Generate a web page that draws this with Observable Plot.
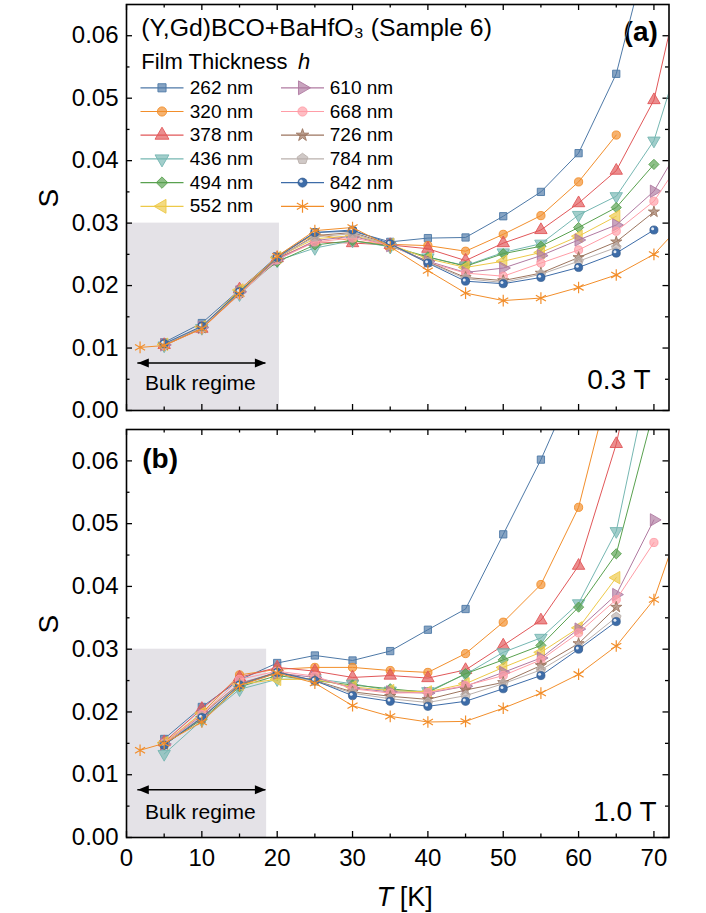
<!DOCTYPE html>
<html>
<head>
<meta charset="utf-8">
<script src="https://cdn.jsdelivr.net/npm/d3@7"></script>
<script src="https://cdn.jsdelivr.net/npm/@observablehq/plot@0.6"></script>
<style>
  body { margin: 0; background: #fff; }
  #chart svg { display: block; }
</style>
</head>
<body>
<div id="chart"></div>
<script>
// ---------- data ----------
const temps = [1.8, 5, 10, 15, 20, 25, 30, 35, 40, 45, 50, 55, 60, 65, 70, 75];
const thicknesses = ["262 nm", "320 nm", "378 nm", "436 nm", "494 nm", "552 nm",
                     "610 nm", "668 nm", "726 nm", "784 nm", "842 nm", "900 nm"];
const lineColors = ["#4e79a7", "#f28e2b", "#e15759", "#76b7b2", "#59a14f", "#edc948",
                    "#b07aa1", "#ff9da7", "#9c755f", "#bab0ac", "#3d6ca8", "#f28e2b"];
const xMajor = [0, 10, 20, 30, 40, 50, 60, 70];
const xMinor = [5, 15, 25, 35, 45, 55, 65];
const yMajor = [0, 0.01, 0.02, 0.03, 0.04, 0.05, 0.06];
const yMinor = [0.005, 0.015, 0.025, 0.035, 0.045, 0.055];

// panel (a): 0.3 T
const a262 = [null, 0.0109, 0.0140, 0.0193, 0.0247, 0.0285, 0.0287, 0.0270, 0.0276, 0.0277, 0.0311, 0.0350, 0.0412, 0.0539, 0.0776, null];
const a320 = [null, 0.0104, 0.0132, 0.0190, 0.0246, 0.0283, 0.0271, 0.0266, 0.0264, 0.0255, 0.0282, 0.0312, 0.0366, 0.0441, null, null];
const a378 = [null, 0.0105, 0.0131, 0.0194, 0.0244, 0.0270, 0.0268, 0.0265, 0.0259, 0.0240, 0.0268, 0.0289, 0.0332, 0.0384, 0.0497, 0.0762];
const a436 = [null, 0.0104, 0.0132, 0.0186, 0.0240, 0.0260, 0.0272, 0.0262, 0.0245, 0.0232, 0.0253, 0.0267, 0.0313, 0.0343, 0.0432, 0.0627];
const a494 = [null, 0.0105, 0.0133, 0.0192, 0.0238, 0.0265, 0.0272, 0.0263, 0.0246, 0.0231, 0.0251, 0.0263, 0.0293, 0.0325, 0.0394, null];
const a552 = [null, 0.0106, 0.0134, 0.0193, 0.0245, 0.0275, 0.0280, 0.0266, 0.0243, 0.0229, 0.0239, 0.0253, 0.0279, 0.0311, null, null];
const a610 = [null, 0.0105, 0.0133, 0.0190, 0.0242, 0.0272, 0.0279, 0.0264, 0.0239, 0.0221, 0.0228, 0.0248, 0.0273, 0.0297, 0.0351, 0.0454];
const a668 = [null, 0.0104, 0.0131, 0.0186, 0.0241, 0.0270, 0.0276, 0.0265, 0.0237, 0.0220, 0.0215, 0.0236, 0.0257, 0.0287, 0.0335, 0.0425];
const a726 = [null, 0.0105, 0.0132, 0.0188, 0.0244, 0.0280, 0.0285, 0.0266, 0.0238, 0.0213, 0.0208, 0.0220, 0.0245, 0.0270, 0.0318, null];
const a784 = [null, 0.0106, 0.0133, 0.0189, 0.0245, 0.0278, 0.0283, 0.0265, 0.0237, 0.0211, 0.0205, 0.0218, 0.0239, 0.0261, null, null];
const a842 = [null, 0.0107, 0.0135, 0.0190, 0.0245, 0.0285, 0.0289, 0.0267, 0.0236, 0.0207, 0.0203, 0.0213, 0.0229, 0.0252, 0.0289, null];
const a900 = [0.0101, 0.0104, 0.0131, 0.0187, 0.0247, 0.0288, 0.0293, 0.0262, 0.0224, 0.0188, 0.0176, 0.0180, 0.0197, 0.0217, 0.0250, 0.0315];

// panel (b): 1.0 T
const b262 = [null, 0.0157, 0.0208, 0.0251, 0.0278, 0.0290, 0.0282, 0.0297, 0.0331, 0.0364, 0.0483, 0.0602, 0.0738, null, null, null];
const b320 = [null, 0.0150, 0.0198, 0.0259, 0.0268, 0.0271, 0.0271, 0.0266, 0.0263, 0.0293, 0.0343, 0.0403, 0.0526, 0.0763, null, null];
const b378 = [null, 0.0152, 0.0205, 0.0255, 0.0271, 0.0265, 0.0255, 0.0258, 0.0254, 0.0267, 0.0306, 0.0346, 0.0433, 0.0627, 0.0900, null];
const b436 = [null, 0.0133, 0.0187, 0.0236, 0.0252, 0.0253, 0.0245, 0.0234, 0.0233, 0.0260, 0.0295, 0.0318, 0.0373, 0.0488, 0.0772, null];
const b494 = [null, 0.0148, 0.0188, 0.0240, 0.0258, 0.0250, 0.0243, 0.0237, 0.0231, 0.0261, 0.0283, 0.0306, 0.0367, 0.0452, 0.0681, null];
const b552 = [null, 0.0151, 0.0198, 0.0244, 0.0252, 0.0252, 0.0240, 0.0234, 0.0232, 0.0245, 0.0271, 0.0295, 0.0334, 0.0414, null, null];
const b610 = [null, 0.0149, 0.0195, 0.0246, 0.0262, 0.0255, 0.0238, 0.0232, 0.0230, 0.0241, 0.0263, 0.0286, 0.0332, 0.0387, 0.0506, null];
const b668 = [null, 0.0150, 0.0196, 0.0252, 0.0265, 0.0257, 0.0237, 0.0230, 0.0231, 0.0242, 0.0258, 0.0283, 0.0326, 0.0379, 0.0470, null];
const b726 = [null, 0.0148, 0.0190, 0.0244, 0.0264, 0.0250, 0.0232, 0.0225, 0.0220, 0.0235, 0.0247, 0.0274, 0.0309, 0.0367, null, null];
const b784 = [null, 0.0149, 0.0192, 0.0243, 0.0262, 0.0249, 0.0230, 0.0221, 0.0215, 0.0226, 0.0245, 0.0267, 0.0303, 0.0351, null, null];
const b842 = [null, 0.0147, 0.0191, 0.0243, 0.0263, 0.0250, 0.0226, 0.0217, 0.0209, 0.0217, 0.0237, 0.0258, 0.0300, 0.0344, null, null];
const b900 = [0.0139, 0.0150, 0.0184, 0.0242, 0.0262, 0.0246, 0.0210, 0.0193, 0.0184, 0.0185, 0.0206, 0.0230, 0.0260, 0.0305, 0.0379, 0.0553];

// ---------- custom symbols ----------
const sqrt3 = Math.sqrt(3);
function triSym(rot) {
  return {
    draw(ctx, size) {
      const y = -Math.sqrt(size / (sqrt3 * 3));
      const pts = [[0, 2 * y], [-sqrt3 * y, -y], [sqrt3 * y, -y]];
      pts.forEach(([px, py], k) => {
        const [qx, qy] = rot === 1 ? [-py, px] : rot === 2 ? [px, -py] : rot === 3 ? [py, px] : [px, py];
        k ? ctx.lineTo(qx, qy) : ctx.moveTo(qx, qy);
      });
      ctx.closePath();
    }
  };
}
const triDown = triSym(2), triLeft = triSym(3), triRight = triSym(1);
const pentagon = {
  draw(ctx, size) {
    const R = Math.sqrt(size / 2.3776);
    for (let k = 0; k < 5; k++) {
      const a = -Math.PI / 2 + k * 2 * Math.PI / 5;
      k ? ctx.lineTo(R * Math.cos(a), R * Math.sin(a)) : ctx.moveTo(R * Math.cos(a), R * Math.sin(a));
    }
    ctx.closePath();
  }
};
const segment = { draw(ctx) { ctx.moveTo(-21.5, 0); ctx.lineTo(21.5, 0); } };
const arrowRight = { draw(ctx) { ctx.moveTo(0, 0); ctx.lineTo(-11, -4.5); ctx.lineTo(-11, 4.5); ctx.closePath(); } };
const arrowLeft = { draw(ctx) { ctx.moveTo(0, 0); ctx.lineTo(11, -4.5); ctx.lineTo(11, 4.5); ctx.closePath(); } };

const markerSymbols = ["square", "circle", "triangle", triDown, "diamond2", triLeft,
                       triRight, "circle", "star", pentagon, "circle", "asterisk"];
const markerR = [4.1, 4.1, 4.6, 4.6, 4.6, 4.6, 4.6, 4.1, 3.5, 4.4, 4.1, 5.5];

function markerMarks(data, i, pos, k = 1) {
  const c = lineColors[i];
  const dx = pos.dx || 0, dy = pos.dy || 0;
  if (markerSymbols[i] === "asterisk") {
    return [Plot.dot(data, {...pos, symbol: "asterisk", r: markerR[i] * k, fill: "none", stroke: c, strokeWidth: 1.2})];
  }
  if (i === 10) {
    return [
      Plot.dot(data, {...pos, symbol: "circle", r: markerR[i] * k, fill: c, stroke: "#2c5487", strokeWidth: 0.6}),
      Plot.dot(data, {...pos, dx: dx - 1.3 * k, dy: dy - 1.3 * k, r: 1.5 * k, fill: "white", fillOpacity: 0.85, stroke: "none"})
    ];
  }
  return [Plot.dot(data, {...pos, symbol: markerSymbols[i], r: markerR[i] * k, fill: c, fillOpacity: 0.68, stroke: c, strokeWidth: 0.9})];
}

// ---------- panel builder ----------
const W = 706, ML = 126, MR = 37.5;
const PW = W - ML - MR;

function panel(cfg) {
  const PH = cfg.height - cfg.mt - cfg.mb;
  const rows = cfg.values.flatMap((vals, i) =>
    temps.map((T, j) => ({T, S: vals[j], i})).filter(d => d.S != null));
  const marks = [
    Plot.rect([cfg.shadeEnd], {x1: 0, x2: d => d, y1: 0, y2: 0.03, fill: "#e4e2e7"}),
    // inward ticks on all four sides
    Plot.tickY(yMajor, {y: d => d, insetRight: PW - 6, stroke: "black", strokeWidth: 1.3}),
    Plot.tickY(yMajor, {y: d => d, insetLeft: PW - 6, stroke: "black", strokeWidth: 1.3}),
    Plot.tickY(yMinor, {y: d => d, insetRight: PW - 3.5, stroke: "black", strokeWidth: 1.3}),
    Plot.tickY(yMinor, {y: d => d, insetLeft: PW - 3.5, stroke: "black", strokeWidth: 1.3}),
    Plot.tickX(xMajor, {x: d => d, insetTop: PH - 6, stroke: "black", strokeWidth: 1.3}),
    Plot.tickX(xMajor, {x: d => d, insetBottom: PH - 6, stroke: "black", strokeWidth: 1.3}),
    Plot.tickX(xMinor, {x: d => d, insetTop: PH - 3.5, stroke: "black", strokeWidth: 1.3}),
    Plot.tickX(xMinor, {x: d => d, insetBottom: PH - 3.5, stroke: "black", strokeWidth: 1.3}),
    Plot.axisY(yMajor, {anchor: "left", tickSize: 0, tickPadding: 8, tickFormat: d3.format(".2f"), fontSize: 24, label: null}),
    Plot.text(["S"], {frameAnchor: "left", dx: -77, rotate: -90, fontSize: 28, lineAnchor: "middle", text: d => d}),
    // bulk regime annotation
    Plot.ruleY([cfg.arrowS], {y: d => d, x1: 1.5, x2: 18.5, stroke: "black", strokeWidth: 1.5}),
    Plot.dot([cfg.arrowS], {x: 1.5, y: d => d, symbol: arrowLeft, fill: "black", stroke: "none"}),
    Plot.dot([cfg.arrowS], {x: 18.5, y: d => d, symbol: arrowRight, fill: "black", stroke: "none"}),
    Plot.text(["Bulk regime"], {x: 9.8, y: cfg.bulkTextS, text: d => d, fontSize: 21, lineAnchor: "middle"}),
    Plot.text([cfg.field], {frameAnchor: "bottom-right", dx: cfg.fieldDx, dy: cfg.fieldDy, text: d => d,
                            textAnchor: "end", lineAnchor: "middle", fontSize: 28}),
    Plot.text([cfg.label], {frameAnchor: cfg.labelAnchor, dx: cfg.labelDx, dy: cfg.labelDy, text: d => d,
                            textAnchor: cfg.labelTextAnchor, lineAnchor: "middle", fontSize: 28, fontWeight: "bold"})
  ];
  thicknesses.forEach((h, i) => {
    const d = rows.filter(r => r.i === i);
    marks.push(Plot.line(d, {x: "T", y: "S", stroke: lineColors[i], strokeWidth: 1, clip: true}));
    marks.push(...markerMarks(d, i, {x: "T", y: "S", clip: true}));
  });
  if (cfg.extra) marks.push(...cfg.extra);
  marks.push(Plot.frame({stroke: "black", strokeWidth: 1.6}));
  return Plot.plot({
    width: W, height: cfg.height,
    marginLeft: ML, marginRight: MR, marginTop: cfg.mt, marginBottom: cfg.mb,
    x: {domain: [0, 72], axis: null},
    y: {domain: [0, 0.065], axis: null},
    style: {fontFamily: "'Liberation Sans', Arial, sans-serif", fontSize: "24px", color: "black", background: "white", overflow: "visible"},
    marks
  });
}

// ---------- legend (panel a) ----------
const legendMarks = [
  Plot.text(["(Y,Gd)BCO+BaHfO\u2083 (Sample 6)"], {frameAnchor: "top-left", dx: 14.7, dy: 24, text: d => d,
    textAnchor: "start", lineAnchor: "middle", fontSize: 24.8}),
  Plot.text(["Film Thickness"], {frameAnchor: "top-left", dx: 14.7, dy: 57.7, text: d => d,
    textAnchor: "start", lineAnchor: "middle", fontSize: 22}),
  Plot.text(["h"], {frameAnchor: "top-left", dx: 171.5, dy: 57.7, text: d => d,
    textAnchor: "start", lineAnchor: "middle", fontSize: 22, fontStyle: "italic"})
];
thicknesses.forEach((h, i) => {
  const col = i < 6 ? 0 : 1, row = i % 6;
  const dy = 83.3 + 23.7 * row;
  const cx = col ? 176 : 35.5;
  const tx = col ? 203.3 : 63.3;
  legendMarks.push(Plot.dot([h], {frameAnchor: "top-left", dx: cx, dy, symbol: segment, fill: "none", stroke: lineColors[i], strokeWidth: 1.2}));
  legendMarks.push(...markerMarks([h], i, {frameAnchor: "top-left", dx: cx, dy}, 1.12));
  legendMarks.push(Plot.text([h], {frameAnchor: "top-left", dx: tx, dy, text: d => d,
    textAnchor: "start", lineAnchor: "middle", fontSize: 19}));
});

const plotA = panel({
  height: 420, mt: 4, mb: 10,
  values: [a262, a320, a378, a436, a494, a552, a610, a668, a726, a784, a842, a900],
  shadeEnd: 20.3, arrowS: 0.0076, bulkTextS: 0.0043,
  field: "0.3 T", fieldDx: -18.5, fieldDy: -30.3,
  label: "(a)", labelAnchor: "top-right", labelDx: -11.2, labelDy: 28, labelTextAnchor: "end",
  extra: legendMarks
});

const plotB = panel({
  height: 493, mt: 9, mb: 76,
  values: [b262, b320, b378, b436, b494, b552, b610, b668, b726, b784, b842, b900],
  shadeEnd: 18.6, arrowS: 0.0076, bulkTextS: 0.0040,
  field: "1.0 T", fieldDx: -12.5, fieldDy: -25.3,
  label: "(b)", labelAnchor: "top-left", labelDx: 15.7, labelDy: 29.3, labelTextAnchor: "start",
  extra: [
    Plot.axisX(xMajor, {anchor: "bottom", tickSize: 0, tickPadding: 11, fontSize: 24, label: null}),
    Plot.text(["T"], {frameAnchor: "bottom", dx: -13, dy: 60, text: d => d, textAnchor: "middle",
      lineAnchor: "middle", fontSize: 27, fontStyle: "italic"}),
    Plot.text(["[K]"], {frameAnchor: "bottom", dx: 2, dy: 60, text: d => d, textAnchor: "start",
      lineAnchor: "middle", fontSize: 27})
  ]
});

const chart = document.getElementById("chart");
chart.appendChild(plotA);
chart.appendChild(plotB);
</script>
</body>
</html>
